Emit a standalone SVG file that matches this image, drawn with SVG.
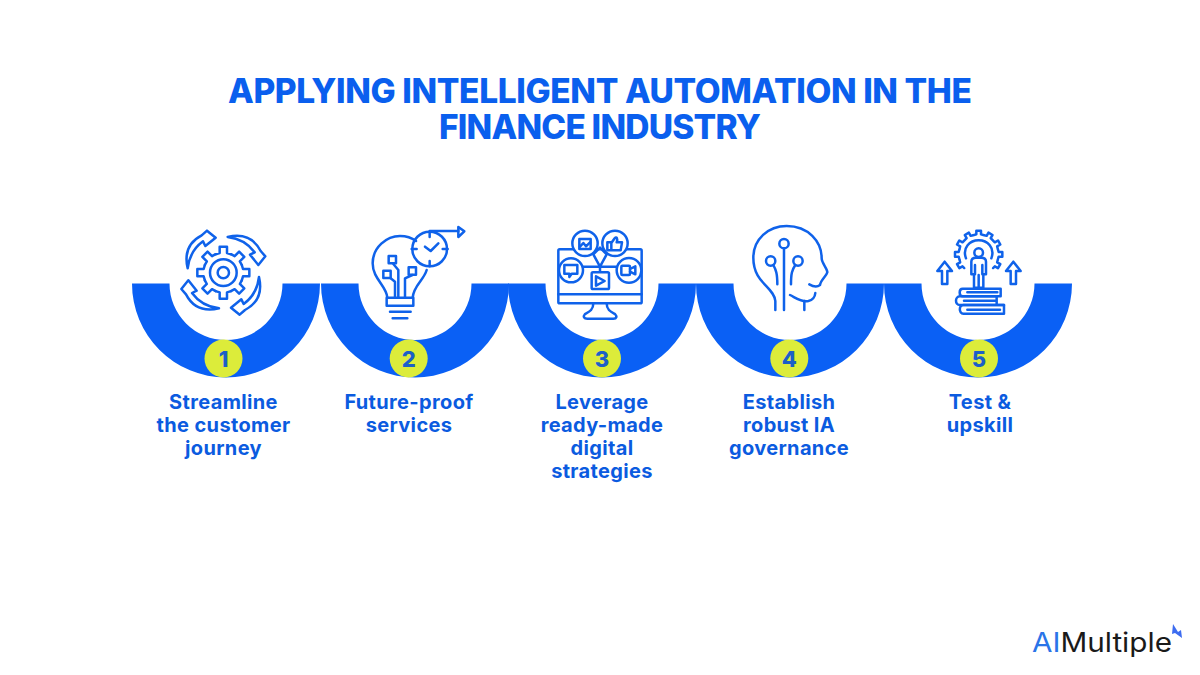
<svg xmlns="http://www.w3.org/2000/svg" xmlns:xlink="http://www.w3.org/1999/xlink" width="1200" height="675" viewBox="0 0 1200 675">
<style>
.t{font-family:"Inter","Liberation Sans",sans-serif;font-weight:800;fill:#0a5fee;text-anchor:middle}
.title{font-size:33.5px}
.lab{font-size:20px;font-weight:700;fill:#0b5be0;letter-spacing:.35px}
.num{font-family:"Inter","Liberation Sans",sans-serif;font-weight:800;font-size:22px;fill:#1c5fc8;text-anchor:middle}
.band{fill:#0a60f5}
.badge{fill:#dcec3a}
.ic{fill:none;stroke:#0f62ea;stroke-width:7.5;stroke-linejoin:round;stroke-linecap:round}
.icw{fill:#fff;stroke:#0f62ea;stroke-width:7.5;stroke-linejoin:round;stroke-linecap:round}
</style>
<defs>
<path id="arc" d="M-94 0A94 94 0 0 0 94 0H56.5A56.5 56.5 0 0 1 -56.5 0Z"/>
<polyline id="tooth" points="-23,-55.4 -11,-59 -11,-78 11,-78 11,-59 23,-55.4"/>
<path id="cur" d="M293 66Q362 50 392 108L406 124L385 150L360 119L374 112Q345 72 293 66Z"/>
<polyline id="tooth5" points="-14,-58 -7,-60 -7,-71 7,-71 7,-60 14,-58"/>
</defs>
<rect width="1200" height="675" fill="#fff"/>
<g id="title">
<text class="t title" x="600" y="103" textLength="744" lengthAdjust="spacing">APPLYING INTELLIGENT AUTOMATION IN THE</text>
<text class="t title" x="600" y="139" textLength="322" lengthAdjust="spacing">FINANCE INDUSTRY</text>
</g>
<g id="step1">
<use href="#arc" class="band" x="226" y="283.5"/>
<g transform="translate(130 215) scale(.33333)">
<g class="ic">
<g transform="translate(280 173)">
<use href="#tooth"/><use href="#tooth" transform="rotate(45)"/><use href="#tooth" transform="rotate(90)"/><use href="#tooth" transform="rotate(135)"/><use href="#tooth" transform="rotate(180)"/><use href="#tooth" transform="rotate(225)"/><use href="#tooth" transform="rotate(270)"/><use href="#tooth" transform="rotate(315)"/>
<circle r="40"/><circle r="17"/>
</g>
<use href="#cur"/><use href="#cur" transform="rotate(-90 280 173)"/><use href="#cur" transform="rotate(90 280 173)"/><use href="#cur" transform="rotate(180 280 173)"/>
</g>
</g>
<circle class="badge" cx="223.5" cy="358.5" r="19"/>
<text class="num" x="223.5" y="366.5">1</text>
<text class="t lab"><tspan x="223.5" y="409">Streamline</tspan><tspan x="223.5" y="432">the customer</tspan><tspan x="223.5" y="455">journey</tspan></text>
</g>
<g id="step2">
<use href="#arc" class="band" x="415" y="283.5"/>
<g transform="translate(130 215) scale(.33333)">
<g class="ic">
<path d="M772 248C770 212 728 192 728 145C728 97 770 63 810 63C830 63 845 68 858 78M890 165C882 195 850 212 848 248"/>
<rect x="770" y="248" width="80" height="24"/>
<path d="M780 290H842M788 310H832"/>
<circle cx="899" cy="102" r="52"/>
<path d="M899 48H985M899 50V66M899 138V154M845 102H860M938 102H953M885 95L902 108L925 85"/>
<path d="M985 36L1003 49L985 66Z"/>
<path d="M805 248V165M825 248V190L847 180M795 248V200L782 190M805 165L790 147"/>
<rect x="776" y="123" width="22" height="22"/><rect x="760" y="167" width="22" height="22"/><rect x="836" y="157" width="22" height="22"/>
</g>
</g>
<circle class="badge" cx="408.7" cy="358.5" r="19"/>
<text class="num" x="408.7" y="366.5">2</text>
<text class="t lab"><tspan x="409" y="409">Future-proof</tspan><tspan x="409" y="432">services</tspan></text>
</g>
<g id="step3">
<use href="#arc" class="band" x="602" y="283.5"/>
<g transform="translate(500 215) scale(.33333)">
<g class="ic">
<rect x="175" y="103" width="250" height="162" rx="4"/>
<path d="M175 238H425M280 265C280 285 268 290 255 297C248 305 252 311 262 311H340C350 311 352 305 345 297C332 290 320 285 320 265"/>
<path d="M280 118L300 155L320 118M248 155H352M300 155V172M280 118L300 98L320 118"/>
<rect x="275" y="172" width="52" height="50" rx="4" class="icw"/>
<path d="M288 184L314 198L288 212Z"/>
<circle cx="255" cy="85" r="38" class="icw"/><circle cx="345" cy="85" r="38" class="icw"/>
<circle cx="213" cy="166" r="36" class="icw"/><circle cx="387" cy="166" r="37" class="icw"/>
<rect x="238" y="72" width="34" height="30"/><path d="M240 95L250 84L258 94L270 82"/>
<path d="M322 82H334V106H322ZM334 84L344 70C350 64 354 70 350 82H366L362 106H334"/>
<path d="M193 150H232V176H215L208 186V176H193Z"/>
<rect x="364" y="152" width="26" height="28" rx="3"/><path d="M390 162L406 154V178L390 170"/>
</g>
</g>
<circle class="badge" cx="602" cy="358.5" r="19"/>
<text class="num" x="602" y="366.5">3</text>
<text class="t lab"><tspan x="602" y="409">Leverage</tspan><tspan x="602" y="432">ready-made</tspan><tspan x="602" y="455">digital</tspan><tspan x="602" y="478">strategies</tspan></text>
</g>
<g id="step4">
<use href="#arc" class="band" x="790" y="283.5"/>
<g transform="translate(500 215) scale(.33333)">
<g class="ic">
<path d="M826 285V258C822 215 760 205 760 128C760 72 805 33 860 33C925 33 965 80 965 130C965 145 982 160 982 172C980 182 962 195 960 210C950 218 938 214 928 208"/>
<path d="M870 240C890 250 905 262 925 258C938 255 945 245 946 234M913 258V285"/>
<path d="M852 100V285"/><circle cx="852" cy="86" r="14"/>
<circle cx="812" cy="138" r="14"/><path d="M820 150C828 165 832 175 832 208"/>
<circle cx="894" cy="138" r="14"/><path d="M886 150C876 165 873 175 873 208"/>
</g>
</g>
<circle class="badge" cx="789.3" cy="358.5" r="19"/>
<text class="num" x="789.3" y="366.5">4</text>
<text class="t lab"><tspan x="789" y="409">Establish</tspan><tspan x="789" y="432">robust IA</tspan><tspan x="789" y="455">governance</tspan></text>
</g>
<g id="step5">
<use href="#arc" class="band" x="978" y="283.5"/>
<g transform="translate(880 215) scale(.33333)">
<g class="ic">
<g transform="translate(296 118)">
<use href="#tooth5"/><use href="#tooth5" transform="rotate(30)"/><use href="#tooth5" transform="rotate(60)"/><use href="#tooth5" transform="rotate(90)"/><use href="#tooth5" transform="rotate(120)"/><use href="#tooth5" transform="rotate(-30)"/><use href="#tooth5" transform="rotate(-60)"/><use href="#tooth5" transform="rotate(-90)"/><use href="#tooth5" transform="rotate(-120)"/>
</g>
<path d="M258 130C246 98 270 76 296 76C322 76 346 98 334 130"/>
<circle cx="296" cy="113" r="13"/>
<path d="M274 178V140C274 132 280 128 288 128H304C312 128 318 132 318 140V178H310V218H282V178ZM296 180V218M285 150V178M307 150V178"/>
<path d="M186 207V168H172L194 140L216 168H202V207Z"/><path d="M392 207V168H378L400 140L422 168H408V207Z"/>
<path d="M362 221H248C236 221 236 244 248 244H362ZM262 232H352"/>
<path d="M350 244H240C224 244 224 270 240 270H372M252 257H345M350 244V270"/>
<path d="M372 270H250C236 270 236 296 250 296H372ZM262 284H360"/>
</g>
</g>
<circle class="badge" cx="979" cy="358.5" r="19"/>
<text class="num" x="979" y="366.5">5</text>
<text class="t lab"><tspan x="980" y="409">Test &amp;</tspan><tspan x="980" y="432">upskill</tspan></text>
</g>
<g id="logo" font-family="Inter,'Liberation Sans',sans-serif" font-size="26.5" font-weight="400">
<text x="1032" y="652" textLength="140" lengthAdjust="spacingAndGlyphs"><tspan fill="#2a74e8">AI</tspan><tspan fill="#1a1a1a">Multiple</tspan></text>
<path d="M1173 624L1178 632L1181 630L1182 638L1175 633L1172 634Z" fill="#3d6cf0"/>
</g>
</svg>
